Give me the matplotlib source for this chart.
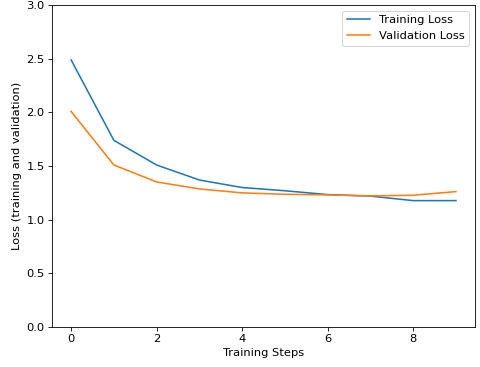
import matplotlib
matplotlib.use("Agg")
import matplotlib.pyplot as plt

steps = [0, 1, 2, 3, 4, 5, 6, 7, 8, 9]
training_loss = [2.49, 1.74, 1.51, 1.37, 1.30, 1.27, 1.234, 1.22, 1.178, 1.178]
validation_loss = [2.01, 1.51, 1.352, 1.287, 1.25, 1.237, 1.231, 1.222, 1.228, 1.262]

plt.rcParams['font.size'] = 11

fig = plt.figure(figsize=(6.4, 367 / 75), dpi=75)
ax = fig.add_subplot()
fig.subplots_adjust(left=0.108, right=0.99, top=0.986, bottom=0.109)

ax.plot(steps, training_loss, label="Training Loss")
ax.plot(steps, validation_loss, label="Validation Loss")
ax.set_ylim(0, 3.0)
ax.set_xlabel("Training Steps")
ax.set_ylabel("Loss (training and validation)")
ax.legend()

fig.savefig("out.png", dpi=75)
